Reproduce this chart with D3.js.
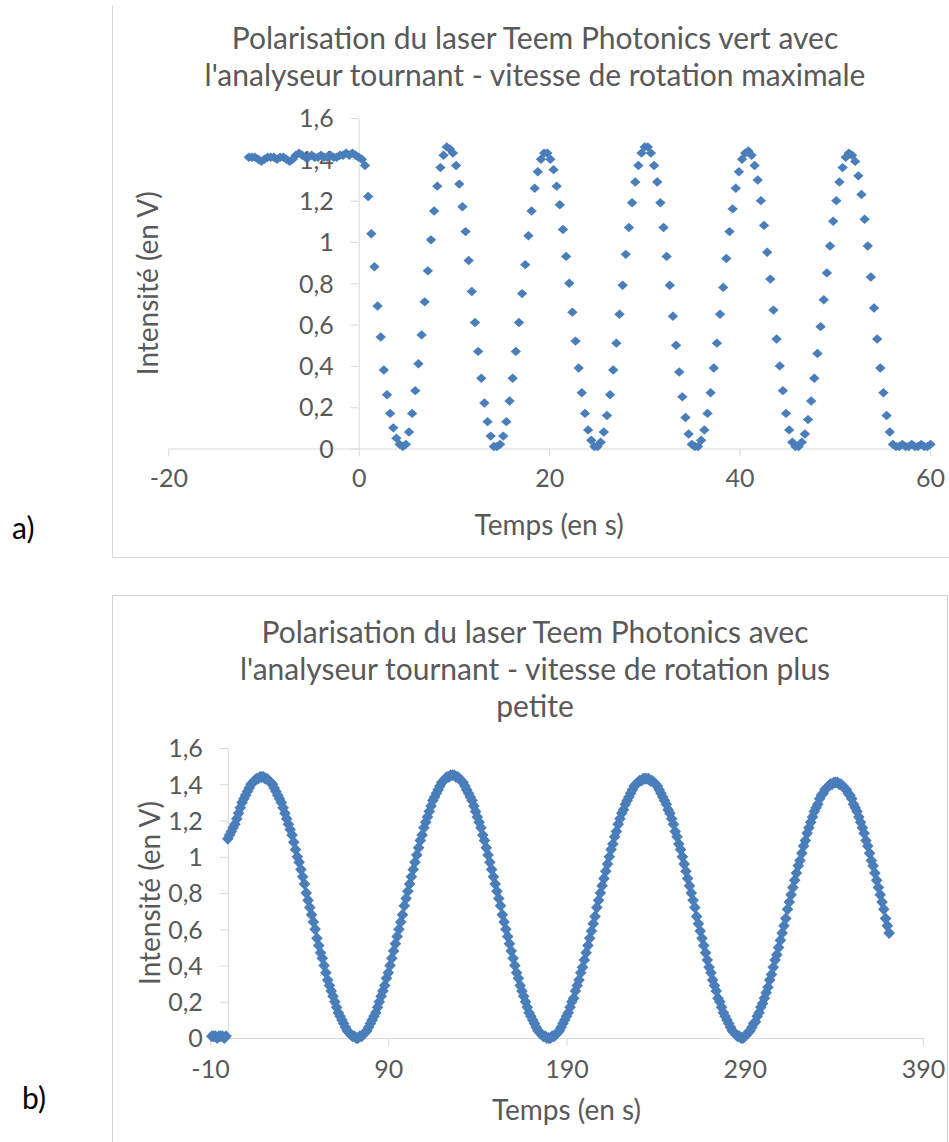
<!DOCTYPE html>
<html><head><meta charset="utf-8">
<script src="https://cdn.jsdelivr.net/npm/d3@7"></script>
<style>body{margin:0;background:#fff} text{font-family:Lato,'Open Sans',sans-serif}</style>
</head><body><svg id="c" width="949" height="1142"></svg>
<script>
// ---------- data ----------
const aStart = -11.55, aStep = 0.33;   // sampling of chart a (s)
const aValues = [
1.41,1.41,1.41,1.40,1.39,1.40,1.41,1.41,1.41,1.40,1.41,1.41,1.40,1.39,1.40,1.42,1.43,1.42,1.41,1.41,
1.42,1.41,1.41,1.42,1.41,1.41,1.42,1.41,1.41,1.42,1.42,1.43,1.42,1.43,1.42,
1.41,1.40,1.37,1.22,1.04,0.88,0.69,0.54,0.38,0.26,
0.17,0.10,0.05,0.02,0.01,0.02,0.08,0.17,0.28,0.41,
0.55,0.71,0.86,1.01,1.15,1.27,1.36,1.42,1.46,1.45,
1.43,1.37,1.28,1.17,1.05,0.91,0.76,0.61,0.47,0.34,
0.22,0.13,0.06,0.01,0.01,0.02,0.06,0.13,0.23,0.34,
0.47,0.61,0.75,0.89,1.03,1.15,1.26,1.34,1.40,1.43,
1.43,1.40,1.35,1.27,1.18,1.06,0.93,0.80,0.66,0.52,
0.39,0.27,0.17,0.09,0.04,0.01,0.01,0.03,0.08,0.16,
0.26,0.38,0.51,0.65,0.79,0.94,1.07,1.19,1.29,1.37,
1.43,1.46,1.46,1.43,1.37,1.29,1.19,1.07,0.93,0.79,
0.64,0.50,0.37,0.25,0.15,0.07,0.02,0.01,0.01,0.04,
0.09,0.17,0.27,0.39,0.51,0.65,0.78,0.92,1.05,1.16,
1.26,1.34,1.40,1.43,1.44,1.42,1.37,1.30,1.20,1.08,
0.95,0.82,0.67,0.53,0.40,0.28,0.17,0.09,0.03,0.01,
0.01,0.03,0.07,0.14,0.23,0.34,0.46,0.59,0.72,0.85,
0.98,1.10,1.20,1.29,1.36,1.41,1.43,1.42,1.39,1.32,
1.23,1.11,0.98,0.83,0.68,0.53,0.39,0.27,0.16,0.08,
0.02,0.01,0.01,0.02,0.01,0.01,0.02,0.01,0.01,0.02,
0.01,0.01,0.02
];
const bStart = -9, bStep = 1;          // sampling of chart b (s)
const bValues = [
0.01,0.01,0.01,0.00,0.01,0.01,0.01,0.00,0.01,
1.10,1.12,1.14,1.16,1.18,1.21,1.24,1.27,1.30,1.32,1.34,1.36,1.38,1.40,1.41,1.42,1.43,1.43,1.44,
1.44,1.44,1.43,1.43,1.42,1.41,1.40,1.38,1.36,1.34,1.32,1.30,1.27,1.24,1.21,1.18,1.15,1.12,1.08,1.04,
1.00,0.97,0.93,0.89,0.85,0.80,0.76,0.72,0.68,0.64,0.60,0.55,0.51,0.47,0.44,0.40,0.36,0.32,0.29,0.26,
0.23,0.20,0.17,0.14,0.12,0.10,0.08,0.06,0.04,0.03,0.02,0.01,0.01,0.00,0.00,
0.01,0.01,0.02,0.03,0.04,0.06,0.08,0.10,0.12,0.14,0.17,0.20,0.23,0.26,0.29,0.33,0.36,0.40,0.44,0.48,
0.52,0.56,0.60,0.64,0.68,0.73,0.77,0.81,0.85,0.89,0.93,0.97,1.01,1.05,1.09,1.12,1.16,1.19,1.22,1.25,
1.28,1.31,1.33,1.35,1.37,1.39,1.41,1.42,1.43,1.44,1.44,1.45,1.45,
1.45,1.44,1.44,1.43,1.42,1.41,1.39,1.37,1.35,1.33,1.31,1.28,1.25,1.22,1.19,1.16,1.12,1.09,1.05,1.01,
0.97,0.93,0.89,0.85,0.81,0.77,0.73,0.68,0.64,0.60,0.56,0.52,0.48,0.44,0.40,0.36,0.33,0.29,0.26,0.23,
0.20,0.17,0.14,0.12,0.10,0.08,0.06,0.04,0.03,0.02,0.01,0.01,0.00,0.00,
0.00,0.01,0.01,0.02,0.03,0.04,0.06,0.08,0.10,0.12,0.14,0.17,0.20,0.22,0.26,0.29,0.32,0.36,0.39,0.43,
0.47,0.51,0.55,0.59,0.63,0.67,0.72,0.76,0.80,0.84,0.88,0.92,0.96,1.00,1.04,1.07,1.11,1.14,1.18,1.21,
1.24,1.26,1.29,1.31,1.33,1.35,1.37,1.39,1.40,1.41,1.42,1.42,1.43,1.43,
1.43,1.43,1.42,1.42,1.41,1.40,1.39,1.37,1.35,1.33,1.31,1.29,1.26,1.24,1.21,1.18,1.14,1.11,1.07,1.04,
1.00,0.96,0.92,0.88,0.84,0.80,0.76,0.72,0.67,0.63,0.59,0.55,0.51,0.47,0.43,0.39,0.36,0.32,0.29,0.26,
0.22,0.20,0.17,0.14,0.12,0.10,0.08,0.06,0.04,0.03,0.02,0.01,0.01,0.00,0.00,
0.01,0.02,0.03,0.04,0.06,0.08,0.09,0.12,0.14,0.17,0.19,0.22,0.25,0.28,0.32,0.35,0.39,0.43,0.46,0.50,
0.54,0.58,0.62,0.66,0.71,0.75,0.79,0.83,0.87,0.91,0.95,0.98,1.02,1.06,1.09,1.13,1.16,1.19,1.22,1.25,
1.27,1.29,1.32,1.34,1.35,1.37,1.38,1.39,1.40,1.40,1.41,1.41,
1.41,1.40,1.40,1.39,1.38,1.37,1.35,1.34,1.32,1.29,1.27,1.25,1.22,1.19,1.16,1.13,1.09,1.06,1.02,0.98,
0.95,0.91,0.87,0.83,0.79,0.75,0.71,0.66,0.62,0.58
];
const yTicks = [0,0.2,0.4,0.6,0.8,1,1.2,1.4,1.6];
const yTickLabels = ["0","0,2","0,4","0,6","0,8","1","1,2","1,4","1,6"];
const aXTicks = [-20,0,20,40,60];
const aXTickLabels = ["-20","0","20","40","60"];
const bXTicks = [-10,90,190,290,390];
const bXTickLabels = ["-10","90","190","290","390"];
const titleA = ["Polarisation du laser Teem Photonics vert avec","l'analyseur tournant - vitesse de rotation maximale"];
const titleB = ["Polarisation du laser Teem Photonics avec","l'analyseur tournant - vitesse de rotation plus","petite"];
const xTitle = "Temps (en s)";
const yTitle = "Intensité (en V)";

// ---------- drawing ----------
const svg = d3.select("#c");
svg.append("rect").attr("width",949).attr("height",1142).attr("fill","#fff");
const TXT = "#595959", AX = "#d9d9d9", BLUE = "#4a7ebb";

// frames
svg.append("path").attr("d","M112.5,5V557.5H949").attr("fill","none").attr("stroke",AX);
svg.append("path").attr("d","M112.5,1142V595.5H947.5V1142").attr("fill","none").attr("stroke","#d0d0d0");

function draw(o){
  const x = d3.scaleLinear().domain(o.xDom).range(o.xRange);
  const y = d3.scaleLinear().domain([0,1.6]).range(o.yRange);
  const g = svg.append("g");
  o.title.forEach((t,i)=>g.append("text").attr("x",o.titleX).attr("y",o.titleY + i*37).attr("dy","0.35em")
    .attr("text-anchor","middle").attr("font-size",30).attr("fill",TXT).text(t));
  const xa = g.append("g").attr("transform",`translate(0,${y(0)})`)
    .call(d3.axisBottom(x).tickValues(o.xTicks).tickFormat((d,i)=>o.xLabels[i]).tickSize(8).tickSizeOuter(0));
  const ya = g.append("g").attr("transform",`translate(${x(0)},0)`)
    .call(d3.axisLeft(y).tickValues(yTicks).tickFormat((d,i)=>yTickLabels[i]).tickSize(8).tickSizeOuter(0));
  [xa,ya].forEach(a=>{
    a.select(".domain").attr("stroke",AX);
    a.selectAll(".tick line").attr("stroke",AX);
    a.selectAll(".tick text").attr("fill",TXT).attr("font-size",25).attr("font-family","Lato");
  });
  xa.selectAll(".tick text").attr("y",o.xLabOff).attr("dy","0.35em");
  ya.selectAll(".tick text").attr("x",-25).attr("dy","0.35em");
  const data = o.values.map((v,i)=>({t:o.start + i*o.step, v}));
  const w = o.mw, h = o.mh;
  g.append("g").selectAll("path").data(data).join("path")
    .attr("d",`M0,${-h}L${w},0L0,${h}L${-w},0Z`)
    .attr("transform",d=>`translate(${x(d.t)},${y(d.v)})`)
    .attr("fill",BLUE);
  g.append("text").attr("x",(o.xRange[0]+o.xRange[1])/2).attr("y",o.xTitleY).attr("dy","0.35em")
    .attr("text-anchor","middle").attr("font-size",28).attr("fill",TXT).text(xTitle);
  const yc = (o.yRange[0]+o.yRange[1])/2;
  g.append("text").attr("transform",`translate(${o.yTitleX},${yc}) rotate(-90)`).attr("dy","0.35em")
    .attr("text-anchor","middle").attr("font-size",28).attr("fill",TXT).text(yTitle);
  g.append("text").attr("x",o.labX).attr("y",o.labY).attr("dy","0.35em")
    .attr("font-size",30).attr("fill","#000").text(o.lab);
}

draw({xDom:[-20,60], xRange:[168.3,930], yRange:[448.5,118], xTicks:aXTicks, xLabels:aXTickLabels,
  values:aValues, start:aStart, step:aStep, mw:5.2, mh:4.7, title:titleA, titleX:535, titleY:38,
  xLabOff:29.5, xTitleY:525, yTitleX:148, lab:"a)", labX:12, labY:528});
draw({xDom:[-10,390], xRange:[210,923], yRange:[1038,748], xTicks:bXTicks, xLabels:bXTickLabels,
  values:bValues, start:bStart, step:bStep, mw:5.8, mh:6, title:titleB, titleX:535, titleY:632,
  xLabOff:31, xTitleY:1110, yTitleX:150, lab:"b)", labX:22, labY:1098});
</script></body></html>
